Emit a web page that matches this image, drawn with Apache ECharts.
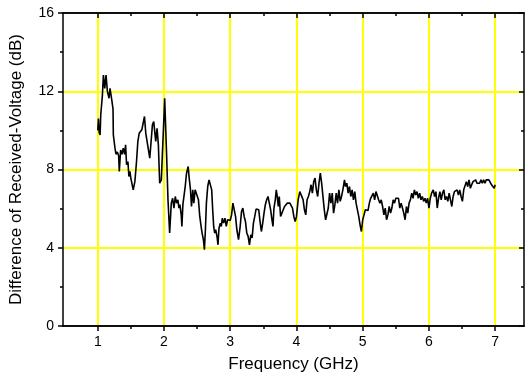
<!DOCTYPE html>
<html>
<head>
<meta charset="utf-8">
<script src="https://cdn.jsdelivr.net/npm/echarts@6/dist/echarts.min.js"></script>
<style>
  html, body { margin: 0; padding: 0; background: #ffffff; }
  #chart { width: 528px; height: 380px; }
</style>
</head>
<body>
<div id="chart"></div>
<script>
// Frequency sweep (GHz)
var freq = [
  1.000, 1.010, 1.020, 1.035, 1.045, 1.070, 1.085, 1.105, 1.125, 1.145,
  1.170, 1.185, 1.205, 1.215, 1.230, 1.235, 1.260, 1.275, 1.295, 1.315,
  1.325, 1.345, 1.365, 1.385, 1.405, 1.420, 1.435, 1.455, 1.470, 1.485,
  1.500, 1.515, 1.535, 1.560, 1.585, 1.605, 1.625, 1.645, 1.665, 1.685,
  1.705, 1.725, 1.745, 1.765, 1.785, 1.805, 1.825, 1.845, 1.860, 1.875,
  1.895, 1.915, 1.925, 1.935, 1.960, 1.975, 1.990, 2.010, 2.040, 2.060,
  2.085, 2.110, 2.130, 2.150, 2.170, 2.190, 2.210, 2.225, 2.240, 2.260,
  2.270, 2.285, 2.300, 2.320, 2.340, 2.365, 2.380, 2.400, 2.415, 2.435,
  2.450, 2.470, 2.500, 2.520, 2.540, 2.560, 2.575, 2.595, 2.610, 2.625,
  2.640, 2.660, 2.680, 2.700, 2.720, 2.735, 2.750, 2.765, 2.780, 2.800,
  2.815, 2.830, 2.850, 2.865, 2.880, 2.900, 2.920, 2.940, 2.960, 2.980,
  3.000, 3.020, 3.040, 3.060, 3.080, 3.100, 3.125, 3.150, 3.170, 3.190,
  3.210, 3.230, 3.250, 3.270, 3.290, 3.310, 3.330, 3.350, 3.370, 3.390,
  3.410, 3.430, 3.450, 3.470, 3.490, 3.510, 3.530, 3.550, 3.570, 3.590,
  3.610, 3.630, 3.645, 3.660, 3.680, 3.695, 3.710, 3.725, 3.740, 3.760,
  3.780, 3.800, 3.820, 3.840, 3.860, 3.880, 3.900, 3.920, 3.940, 3.960,
  3.980, 4.000, 4.025, 4.050, 4.075, 4.100, 4.120, 4.140, 4.160, 4.180,
  4.200, 4.220, 4.240, 4.260, 4.280, 4.300, 4.320, 4.340, 4.360, 4.380,
  4.400, 4.420, 4.440, 4.460, 4.480, 4.500, 4.520, 4.540, 4.560, 4.580,
  4.600, 4.620, 4.640, 4.660, 4.680, 4.700, 4.725, 4.740, 4.760, 4.780,
  4.800, 4.820, 4.840, 4.860, 4.880, 4.900, 4.920, 4.940, 4.960, 4.980,
  5.000, 5.020, 5.040, 5.060, 5.080, 5.100, 5.120, 5.140, 5.160, 5.180,
  5.200, 5.220, 5.240, 5.260, 5.280, 5.300, 5.320, 5.340, 5.360, 5.380,
  5.400, 5.420, 5.440, 5.460, 5.480, 5.500, 5.520, 5.540, 5.560, 5.580,
  5.600, 5.620, 5.640, 5.660, 5.680, 5.700, 5.720, 5.740, 5.760, 5.780,
  5.800, 5.820, 5.840, 5.860, 5.880, 5.900, 5.920, 5.940, 5.960, 5.980,
  6.000, 6.020, 6.040, 6.065, 6.085, 6.105, 6.125, 6.145, 6.165, 6.185,
  6.205, 6.225, 6.245, 6.265, 6.285, 6.305, 6.325, 6.345, 6.365, 6.385,
  6.405, 6.425, 6.445, 6.465, 6.485, 6.505, 6.525, 6.545, 6.565, 6.585,
  6.605, 6.625, 6.645, 6.665, 6.685, 6.705, 6.725, 6.745, 6.765, 6.785,
  6.805, 6.825, 6.845, 6.865, 6.885, 6.905, 6.925, 6.945, 6.965, 6.985,
  7.000
];

// Difference of received voltage (dB) at each frequency
var diffDb = [
  10.00, 10.60, 9.90, 9.77, 10.80, 11.80, 12.83, 12.15, 12.83, 12.00,
  11.64, 12.15, 12.20, 11.47, 11.10, 9.77, 9.09, 8.78, 8.90, 8.70,
  7.90, 9.00, 8.78, 9.09, 8.78, 9.26, 8.24, 8.40, 7.64, 7.90,
  7.55, 7.64, 6.96, 7.38, 8.41, 9.43, 9.85, 9.77, 10.03, 9.94,
  10.71, 9.85, 9.43, 9.00, 8.58, 9.43, 10.28, 10.45, 9.94, 9.43,
  10.11, 9.26, 8.24, 7.30, 7.47, 8.75, 9.94, 11.64, 8.66, 6.45,
  4.75, 6.28, 6.53, 6.03, 6.62, 6.28, 6.45, 6.03, 6.20, 5.68,
  5.09, 6.20, 6.28, 7.13, 7.81, 8.15, 7.56, 6.96, 6.11, 6.96,
  6.28, 6.96, 6.96, 6.45, 5.60, 5.09, 4.75, 4.41, 3.90, 4.92,
  6.28, 7.13, 7.47, 7.56, 6.96, 5.94, 5.09, 4.75, 4.92, 4.58,
  4.15, 5.00, 5.26, 5.09, 5.51, 5.26, 5.51, 5.09, 5.43, 5.34,
  5.40, 5.68, 6.28, 6.28, 5.60, 4.92, 4.41, 5.09, 5.85, 6.03,
  5.60, 5.34, 4.75, 4.58, 4.15, 4.66, 4.50, 5.26, 5.60, 5.98,
  5.98, 5.94, 5.34, 4.83, 5.26, 5.77, 6.20, 6.45, 6.62, 6.28,
  5.94, 5.43, 5.09, 6.03, 6.45, 6.96, 6.62, 6.11, 6.62, 5.60,
  5.77, 5.94, 6.11, 6.03, 6.28, 6.20, 6.28, 6.20, 6.03, 5.60,
  5.34, 5.60, 6.45, 6.87, 6.96, 6.45, 5.94, 5.68, 6.45, 6.62,
  6.87, 7.22, 6.79, 7.38, 7.56, 6.96, 6.62, 7.30, 7.81, 7.30,
  6.62, 5.94, 5.43, 5.34, 6.03, 6.79, 6.28, 6.79, 5.77, 6.20,
  6.79, 6.28, 6.96, 6.37, 6.62, 6.96, 7.47, 7.13, 7.30, 6.79,
  7.13, 6.62, 6.96, 6.45, 6.87, 6.28, 5.94, 5.60, 5.17, 4.83,
  5.43, 5.68, 5.94, 5.85, 5.90, 6.28, 6.53, 6.45, 6.79, 6.45,
  6.87, 6.79, 6.45, 6.28, 6.45, 6.11, 5.68, 6.03, 5.43, 5.68,
  6.11, 5.77, 6.03, 6.45, 6.28, 6.53, 6.45, 6.53, 6.03, 6.28,
  6.03, 5.77, 5.43, 6.11, 5.77, 6.28, 6.45, 6.79, 6.53, 6.96,
  6.70, 6.87, 6.53, 6.79, 6.45, 6.62, 6.37, 6.53, 6.28, 6.53,
  6.03, 6.53, 6.79, 6.96, 6.62, 6.87, 6.03, 6.53, 6.87, 6.45,
  6.79, 6.96, 6.45, 6.62, 6.37, 6.79, 6.45, 6.11, 6.62, 6.87,
  6.79, 6.96, 6.70, 6.96, 6.62, 6.37, 6.96, 6.87, 7.38, 7.13,
  7.47, 7.04, 7.22, 7.38, 7.30, 7.47, 7.30, 7.38, 7.30, 7.47,
  7.30, 7.47, 7.30, 7.47, 7.43, 7.47, 7.47, 7.22, 7.30, 7.04,
  7.22
];

// Axis tick positions
var xMajorTicks = [1, 2, 3, 4, 5, 6, 7];
var xMinorTicks = [1.5, 2.5, 3.5, 4.5, 5.5, 6.5];
var xGridLines = [1, 2, 3, 4, 5, 6, 7];
var yGridLines = [4, 8, 12];

var X_MIN = 0.475, X_MAX = 7.435;
var FONT = '"Liberation Sans", Arial, sans-serif';
var BLACK = '#000000';

var points = freq.map(function (f, i) { return [f, diffDb[i]]; });

function xAxisDef(pos, ticks, tickLen, inside, withLabels, name) {
  return {
    type: 'value',
    position: pos,
    min: X_MIN,
    max: X_MAX,
    z: 10,
    name: name || '',
    nameLocation: 'middle',
    nameGap: 30,
    nameTextStyle: { fontFamily: FONT, fontSize: 17, color: BLACK },
    axisLine: { show: true, onZero: false, lineStyle: { color: BLACK, width: 1.5 } },
    axisTick: { show: true, inside: inside, length: tickLen, customValues: ticks,
                lineStyle: { color: BLACK, width: 1.5 } },
    axisLabel: withLabels
      ? { show: true, customValues: xMajorTicks, margin: 9,
          fontFamily: FONT, fontSize: 14, color: BLACK }
      : { show: false },
    splitLine: { show: false }
  };
}

function yAxisDef(pos, inside, withLabels, name) {
  return {
    type: 'value',
    position: pos,
    min: 0,
    max: 16,
    interval: 4,
    z: 10,
    name: name || '',
    nameLocation: 'middle',
    nameGap: 38,
    nameTextStyle: { fontFamily: FONT, fontSize: 17, color: BLACK },
    axisLine: { show: true, onZero: false, lineStyle: { color: BLACK, width: 1.5 } },
    axisTick: { show: true, inside: inside, length: 5, lineStyle: { color: BLACK, width: 1.5 } },
    minorTick: { show: true, splitNumber: 2, length: 3, lineStyle: { color: BLACK, width: 1.5 } },
    axisLabel: withLabels
      ? { show: true, margin: 9, fontFamily: FONT, fontSize: 14, color: BLACK }
      : { show: false },
    splitLine: { show: false }
  };
}

var chart = echarts.init(document.getElementById('chart'), null, { renderer: 'canvas' });

chart.setOption({
  animation: false,
  backgroundColor: '#ffffff',
  grid: { left: 60, right: 4, top: 13, bottom: 54, containLabel: false },
  xAxis: [
    xAxisDef('bottom', xMajorTicks, 5, false, true, 'Frequency (GHz)'),
    xAxisDef('bottom', xMinorTicks, 3, false, false),
    xAxisDef('top', xMajorTicks, 5, true, false),
    xAxisDef('top', xMinorTicks, 3, true, false)
  ],
  yAxis: [
    yAxisDef('left', false, true, 'Difference of Received-Voltage (dB)'),
    yAxisDef('right', true, false)
  ],
  series: [
    {
      // yellow reference grid
      type: 'line',
      xAxisIndex: 0,
      yAxisIndex: 0,
      data: [],
      z: 1,
      silent: true,
      markLine: {
        silent: true,
        symbol: ['none', 'none'],
        label: { show: false },
        lineStyle: { color: '#FFFF00', width: 2, type: 'solid' },
        data: xGridLines.map(function (v) { return { xAxis: v }; })
          .concat(yGridLines.map(function (v) { return { yAxis: v }; }))
      }
    },
    {
      type: 'line',
      xAxisIndex: 0,
      yAxisIndex: 0,
      z: 5,
      data: points,
      showSymbol: false,
      symbol: 'none',
      smooth: false,
      lineStyle: { color: BLACK, width: 1.6 }
    }
  ]
});
</script>
</body>
</html>
